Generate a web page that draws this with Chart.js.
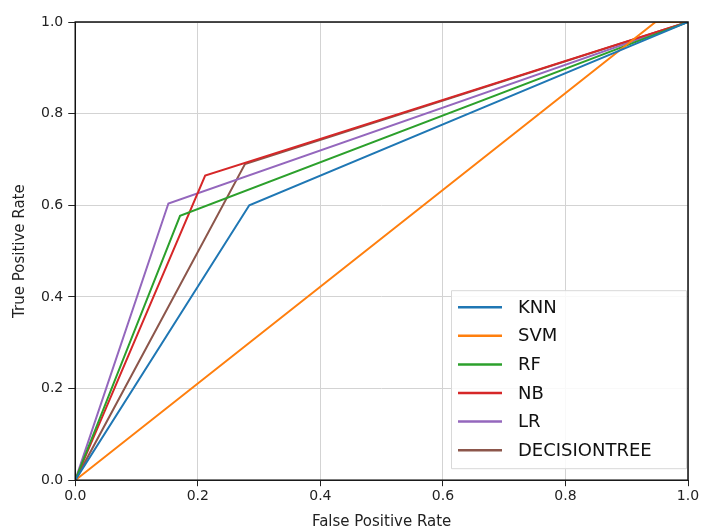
<!DOCTYPE html>
<html>
<head>
<meta charset="utf-8">
<script src="https://cdn.jsdelivr.net/npm/chart.js@4"></script>
<style>
  html, body { margin: 0; padding: 0; background: #fff; }
  #wrap { width: 702px; height: 532px; }
</style>
</head>
<body>
<div id="wrap"><canvas id="roc"></canvas></div>
<script>
const modelNames = ['KNN', 'SVM', 'RF', 'NB', 'LR', 'DECISIONTREE'];
const modelColors = ['#1f77b4', '#ff7f0e', '#2ca02c', '#d62728', '#9467bd', '#8c564b'];

// false positive rate / true positive rate per model
const knnFpr = [0, 0.284, 1];
const knnTpr = [0, 0.600, 1];
const svmFpr = [0, 0.947, 1];
const svmTpr = [0, 1.000, 1];
const rfFpr = [0, 0.171, 1];
const rfTpr = [0, 0.577, 1];
const nbFpr = [0, 0.212, 1];
const nbTpr = [0, 0.665, 1];
const lrFpr = [0, 0.152, 1];
const lrTpr = [0, 0.604, 1];
const dtFpr = [0, 0.277, 1];
const dtTpr = [0, 0.690, 1];

const axisTicks = [0, 0.2, 0.4, 0.6, 0.8, 1.0];

const curves = [
  [knnFpr, knnTpr], [svmFpr, svmTpr], [rfFpr, rfTpr],
  [nbFpr, nbTpr], [lrFpr, lrTpr], [dtFpr, dtTpr]
];

const datasets = curves.map((c, i) => ({
  label: modelNames[i],
  data: c[0].map((x, j) => ({ x: x, y: c[1][j] })),
  borderColor: modelColors[i],
  backgroundColor: modelColors[i],
  borderWidth: 2,
  pointRadius: 0,
  showLine: true,
  tension: 0
}));

// box around the plot, like matplotlib spines
const frameBox = {
  id: 'frameBox',
  afterDatasetsDraw(chart) {
    const { ctx, chartArea: a } = chart;
    ctx.save();
    ctx.strokeStyle = '#111';
    ctx.lineWidth = 1.5;
    ctx.strokeRect(a.left, a.top, a.right - a.left, a.bottom - a.top);
    ctx.restore();
  }
};

// legend inside the plot, lower right
const innerLegend = {
  id: 'innerLegend',
  afterDraw(chart) {
    const { ctx, chartArea: a } = chart;
    const rowH = 28.6;
    const boxW = 235, boxH = 178;
    const x0 = a.right - boxW - 2, y0 = a.bottom - boxH - 12;
    ctx.save();
    ctx.fillStyle = 'rgba(255,255,255,0.85)';
    ctx.strokeStyle = '#d8d8d8';
    ctx.lineWidth = 1;
    ctx.beginPath();
    ctx.rect(x0 + 0.5, y0 + 0.5, boxW, boxH);
    ctx.fill();
    ctx.stroke();
    ctx.font = '18px "DejaVu Sans"';
    ctx.textBaseline = 'middle';
    chart.data.datasets.forEach((ds, i) => {
      const cy = y0 + 17 + i * rowH;
      ctx.strokeStyle = ds.borderColor;
      ctx.lineWidth = 2.5;
      ctx.beginPath();
      ctx.moveTo(x0 + 7, cy);
      ctx.lineTo(x0 + 51, cy);
      ctx.stroke();
      ctx.fillStyle = '#111';
      ctx.fillText(ds.label, x0 + 67, cy + 1);
    });
    ctx.restore();
  }
};

const tickFont = { family: 'DejaVu Sans', size: 14 };
const titleFont = { family: 'DejaVu Sans', size: 15 };

new Chart(document.getElementById('roc'), {
  type: 'scatter',
  data: { datasets: datasets },
  options: {
    responsive: true,
    maintainAspectRatio: false,
    animation: false,
    layout: { padding: { top: 22, right: 14, left: 11, bottom: 1 } },
    plugins: { legend: { display: false }, tooltip: { enabled: false } },
    scales: {
      x: {
        type: 'linear', min: 0, max: 1,
        afterBuildTicks: s => { s.ticks = axisTicks.map(v => ({ value: v })); },
        ticks: { color: '#222', font: tickFont, padding: 2, callback: v => v.toFixed(1) },
        grid: { color: '#d3d3d3', tickColor: '#222', tickLength: 6 },
        border: { display: false },
        title: { display: true, text: 'False Positive Rate', color: '#222', font: titleFont, padding: { top: 6, bottom: 0 } }
      },
      y: {
        type: 'linear', min: 0, max: 1,
        afterBuildTicks: s => { s.ticks = axisTicks.map(v => ({ value: v })); },
        ticks: { color: '#222', font: tickFont, padding: 5, callback: v => v.toFixed(1) },
        grid: { color: '#d3d3d3', tickColor: '#222', tickLength: 7 },
        border: { display: false },
        title: { display: true, text: 'True Positive Rate', color: '#222', font: titleFont, padding: { top: 0, bottom: 7 } }
      }
    }
  },
  plugins: [frameBox, innerLegend]
});
</script>
</body>
</html>
